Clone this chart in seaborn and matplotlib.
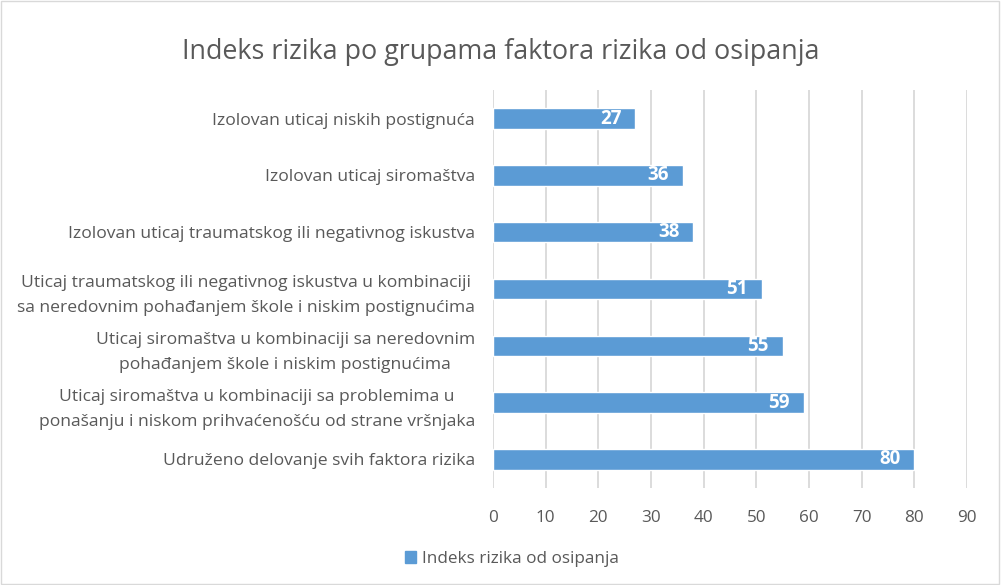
import pandas as pd
import matplotlib.pyplot as plt
import seaborn as sns
from matplotlib.patches import Rectangle

# -----------------------------
# Data
# -----------------------------
categories = [
    "Izolovan uticaj niskih postignuća",
    "Izolovan uticaj siromaštva",
    "Izolovan uticaj traumatskog ili negativnog iskustva",
    "Uticaj traumatskog ili negativnog iskustva u kombinaciji\nsa neredovnim pohađanjem škole i niskim postignućima",
    "Uticaj siromaštva u kombinaciji sa neredovnim\npohađanjem škole i niskim postignućima",
    "Uticaj siromaštva u kombinaciji sa problemima u\nponašanju i niskom prihvaćenošću od strane vršnjaka",
    "Udruženo delovanje svih faktora rizika",
]
values = [27, 36, 38, 51, 55, 59, 80]
series_name = "Indeks rizika od osipanja"
title = "Indeks rizika po grupama faktora rizika od osipanja"

df = pd.DataFrame({"cat": categories, "val": values})

BLUE = "#5B9BD5"
GRAY = "#595959"

sns.set_theme(style="white")
plt.rcParams["font.family"] = ["Open Sans", "DejaVu Sans"]

fig = plt.figure(figsize=(10.01, 5.85), dpi=100)
ax = fig.add_axes([0.4925, 0.166, 0.4735, 0.680])

sns.barplot(data=df, x="val", y="cat", orient="h", color=BLUE, width=0.36,
            saturation=1, ax=ax, zorder=3)

ax.set_xlim(0, 90)
ax.set_xticks(range(0, 91, 10))
ax.grid(axis="x", color="#D9D9D9", linewidth=1.3, zorder=0)
ax.set_xlabel("")
ax.set_ylabel("")
for s in ax.spines.values():
    s.set_visible(False)
ax.tick_params(axis="x", colors=GRAY, labelsize=12.3, length=0, pad=16)
ax.tick_params(axis="y", colors=GRAY, labelsize=12.6, length=0, pad=13)
for t in ax.get_yticklabels():
    t.set_multialignment("center")
    t.set_linespacing(1.75)

labels = ax.bar_label(ax.containers[0], padding=-10, color="white",
                      fontsize=13.5, fontweight="bold")
for t in labels:
    t.set_ha("right")

fig.suptitle(title, y=0.935, fontsize=19.4, color=GRAY)

handle = Rectangle((0, 0), 1, 1, color=BLUE)
fig.legend([handle], [series_name], loc="center", bbox_to_anchor=(0.511, 0.045),
           frameon=False, fontsize=12.3, labelcolor=GRAY, handlelength=0.7,
           handleheight=0.7, handletextpad=0.3)

fig.add_artist(Rectangle((0.001, 0.001), 0.997, 0.997, transform=fig.transFigure,
                         fill=False, edgecolor="#D9D9D9", linewidth=1))

fig.savefig("out.png", dpi=100)
